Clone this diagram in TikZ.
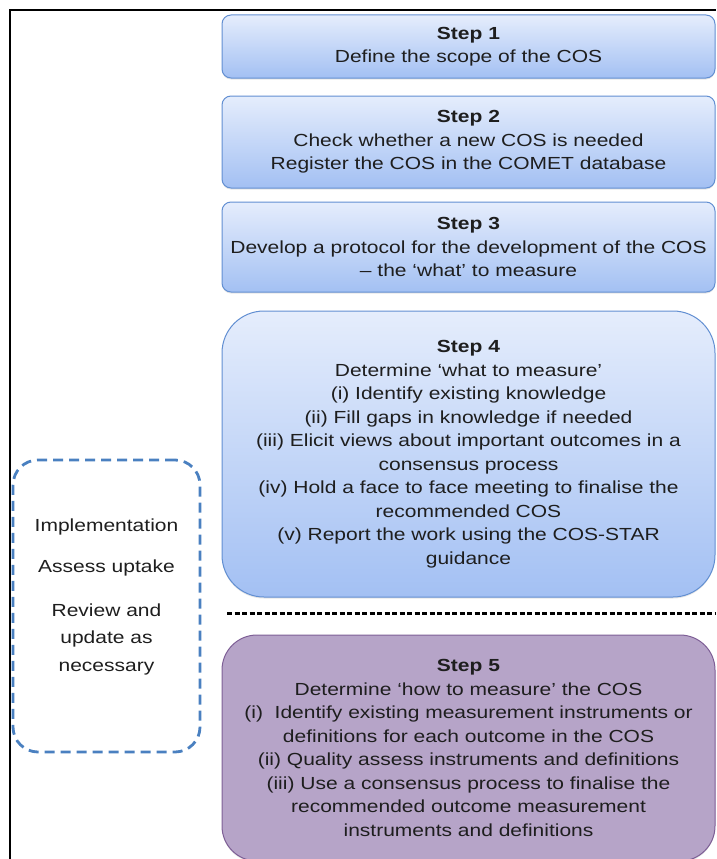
\documentclass[tikz,border=0pt]{standalone}
\usepackage{fontspec}
\setmainfont[FakeStretch=1.2]{Liberation Sans}
\usepackage{tikz}
\usetikzlibrary{positioning,shadows}
\definecolor{stepline}{RGB}{98,143,210}
\definecolor{bluetop}{RGB}{229,237,252}
\definecolor{bluebot}{RGB}{163,192,243}
\definecolor{purpleline}{RGB}{126,95,150}
\definecolor{purplefill}{RGB}{182,164,200}
\definecolor{loopblue}{RGB}{74,128,192}
\definecolor{inkgray}{RGB}{30,30,30}

\begin{document}
\begin{tikzpicture}[x=1pt,y=-1pt,node distance=17pt,
  every node/.style={font=\fontsize{17.5}{23.5}\selectfont,align=center,text=inkgray},
  stepbox/.style={draw=stepline,line width=1pt,top color=bluetop,bottom color=bluebot,rounded corners=9pt,
    minimum width=493pt,text width=493pt,inner xsep=0pt,
    drop shadow={opacity=0.2,shadow xshift=0pt,shadow yshift=-1.5pt}},
  howbox/.style={stepbox,draw=purpleline,fill=purplefill,top color=purplefill,bottom color=purplefill},
  loopbox/.style={draw=loopblue,line width=2.8pt,dash pattern=on 10pt off 6pt,rounded corners=25pt,
    minimum width=187pt,minimum height=292pt}]
\useasboundingbox (0,0) rectangle (716,859);
\draw[line width=2pt] (10,859) -- (10,10) -- (716,10);
\node[stepbox,minimum height=63pt] (s1) at (468.5,46.5) {\textbf{Step 1}\\Define the scope of the COS};
\node[stepbox,minimum height=92pt,below=17pt of s1] (s2) {\textbf{Step 2}\\Check whether a new COS is needed\\Register the COS in the COMET database};
\node[stepbox,minimum height=90pt,below=13pt of s2] (s3) {\textbf{Step 3}\\Develop a protocol for the development of the COS\\– the ‘what’ to measure};
\node[stepbox,minimum height=286pt,rounded corners=42pt,below=18pt of s3] (s4) {\textbf{Step 4}\\Determine ‘what to measure’\\(i) Identify existing knowledge\\(ii) Fill gaps in knowledge if needed\\(iii) Elicit views about important outcomes in a\\consensus process\\(iv) Hold a face to face meeting to finalise the\\recommended COS\\(v) Report the work using the COS-STAR\\guidance};
\node[howbox,minimum height=226pt,rounded corners=35pt,below=37pt of s4] (s5) {\textbf{Step 5}\\Determine ‘how to measure’ the COS\\(i)\ \ Identify existing measurement instruments or\\definitions for each outcome in the COS\\(ii) Quality assess instruments and definitions\\(iii) Use a consensus process to finalise the\\recommended outcome measurement\\instruments and definitions};
% what / how divider
\coordinate (cutL) at (227,613);
\coordinate (cutR) at (716,613);
\draw[line width=3pt,dash pattern=on 5pt off 2.5pt] (cutL) -- (cutR);
% after the COS
\node[loopbox] (cycle) at (106.5,606) {};
\node[font=\fontsize{17.5}{27.5}\selectfont] (cycletext) at ([yshift=9pt]cycle.center) {Implementation\\[13.5pt]Assess uptake\\[16pt]Review and\\update as\\necessary};
\end{tikzpicture}
\end{document}
